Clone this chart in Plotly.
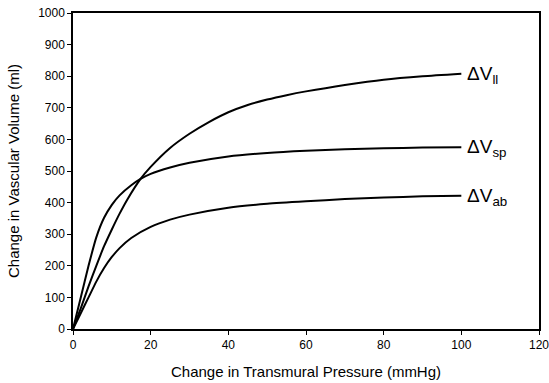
import plotly.graph_objects as go

# Pressure values (mmHg) and volume readings (ml)
pressure_sp = [0, 2, 4, 6, 8, 10, 12, 15, 17.4, 20, 25, 30, 40, 50, 60, 70, 80, 90, 100]
vol_sp = [0, 100, 200, 290, 352, 393, 423, 455, 475, 491, 511, 526, 546, 557, 564, 569, 572, 574, 575]

pressure_ll = [0, 2, 4, 6, 8, 10, 12, 14, 17.4, 20, 25, 30, 35, 40, 45, 50, 55, 60, 65, 70, 80, 90, 100]
vol_ll = [0, 65, 135, 200, 262, 315, 365, 410, 475, 513, 573, 618, 655, 686, 709, 726, 740, 752, 762, 772, 789, 800, 808]

pressure_ab = [0, 2, 4, 6, 8, 10, 12, 15, 20, 25, 30, 40, 50, 60, 70, 80, 90, 100]
vol_ab = [0, 50, 100, 150, 193, 228, 256, 288, 323, 346, 362, 384, 396, 404, 411, 416, 420, 422]

series_labels = ["ΔV<sub>ll</sub>", "ΔV<sub>sp</sub>", "ΔV<sub>ab</sub>"]

x_ticks = [0, 20, 40, 60, 80, 100, 120]
y_ticks = [0, 100, 200, 300, 400, 500, 600, 700, 800, 900, 1000]

FONT = "Liberation Sans, Arial"

fig = go.Figure()
series = [(pressure_ll, vol_ll), (pressure_sp, vol_sp), (pressure_ab, vol_ab)]
for (xs, ys), name in zip(series, series_labels):
    fig.add_trace(go.Scatter(x=xs, y=ys, mode="lines", name=name,
                             line=dict(color="black", width=2, shape="spline", smoothing=0.6),
                             showlegend=False, hoverinfo="skip"))
    fig.add_annotation(x=xs[-1], y=ys[-1], xref="x", yref="y", text=name,
                       showarrow=False, xanchor="left", yanchor="middle", xshift=4, yshift=-1,
                       font=dict(family=FONT, size=19, color="black"))

axis_common = dict(showgrid=False, zeroline=False, showline=True, linecolor="black",
                   linewidth=1.5, mirror=True, ticks="outside", ticklen=4, tickwidth=1,
                   tickcolor="black", automargin=False, ticklabeloverflow="allow",
                   tickfont=dict(family=FONT, size=12, color="black"))

fig.update_xaxes(range=[0, 120], tickvals=x_ticks,
                 title=dict(text="Change in Transmural Pressure (mmHg)",
                            font=dict(family=FONT, size=15, color="black")),
                 **axis_common)
fig.update_yaxes(range=[0, 1000], tickvals=y_ticks,
                 title=dict(text="Change in Vascular Volume (ml)",
                            font=dict(family=FONT, size=15, color="black")),
                 **axis_common)

fig.update_layout(width=549, height=383, margin=dict(l=73, r=10, t=13, b=54),
                  plot_bgcolor="white", paper_bgcolor="white")

fig.write_html("out.html", config={"displayModeBar": False},
               post_script="document.body.style.margin='0';document.body.style.overflow='hidden';")
